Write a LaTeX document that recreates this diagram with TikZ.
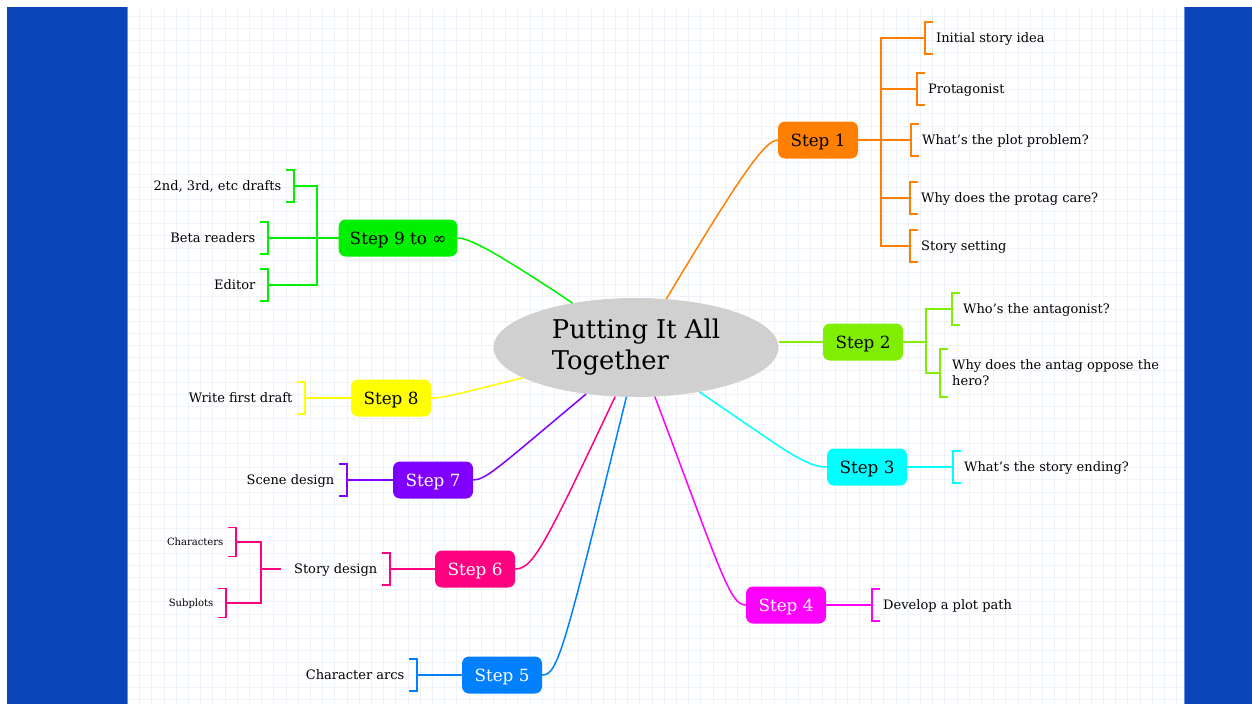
\documentclass[tikz,border=0pt]{standalone}
\usepackage{fontspec}
\setmainfont{DejaVu Serif}
\usetikzlibrary{shapes.geometric}

% palette
\definecolor{sideblue}{HTML}{0A46B9}
\definecolor{edgeblue}{HTML}{6E8FE0}
\definecolor{gridcol}{HTML}{EDF2FB}
\definecolor{hubgray}{HTML}{D0D0D0}
\definecolor{cOne}{HTML}{FF8000}
\definecolor{cTwo}{HTML}{80EE00}
\definecolor{cThree}{HTML}{00FFFF}
\definecolor{cFour}{HTML}{FF00FF}
\definecolor{cFive}{HTML}{0080FF}
\definecolor{cSix}{HTML}{FF0080}
\definecolor{cSeven}{HTML}{8000FF}
\definecolor{cEight}{HTML}{FFFF00}
\definecolor{cNine}{HTML}{00F000}

\newcommand\titlefont{\fontsize{25.8}{31}\selectfont}
\newcommand\stepfont{\fontsize{16.8}{19}\selectfont}
\newcommand\leaffont{\fontsize{13}{16}\selectfont}
\newcommand\tinyleaffont{\fontsize{10}{12}\selectfont}

% bracket on the west side of a leaf (opening to the right)
\newcommand\brackW[2]{\draw[conn,#2] ([xshift=8pt]#1.north west) -- (#1.north west) -- (#1.south west) -- ([xshift=8pt]#1.south west);}
% bracket on the east side of a leaf (opening to the left)
\newcommand\brackE[2]{\draw[conn,#2] ([xshift=-8pt]#1.north east) -- (#1.north east) -- (#1.south east) -- ([xshift=-8pt]#1.south east);}

\begin{document}
\begin{tikzpicture}[x=1pt,y=-1pt,
  gridline/.style={draw=gridcol,line width=1.1pt},
  conn/.style={line width=1.5pt},
  hub/.style={ellipse,fill=hubgray,minimum width=285pt,minimum height=99pt,inner sep=0pt,
    align=left,font=\titlefont},
  stepbox/.style={rounded corners=7pt,minimum width=80pt,minimum height=37pt,inner xsep=11pt,
    inner ysep=0pt,font=\stepfont,text height=12pt,text depth=0pt},
  leafR/.style={anchor=west,inner xsep=11pt,inner ysep=0pt,minimum height=32pt,font=\leaffont,
    text height=9.5pt,text depth=0pt},
  leafL/.style={anchor=east,inner xsep=12.5pt,inner ysep=0pt,minimum height=32pt,font=\leaffont,
    text height=9.5pt,text depth=0pt},
  tinyleaf/.style={leafL,minimum height=29pt,font=\tinyleaffont,text height=7.3pt}]

\useasboundingbox (0,0) rectangle (1252,704);
\fill[white] (0,0) rectangle (1252,704);

% squared paper
\foreach \i in {0,...,85} {\draw[gridline] ({139.7+12.2*\i},7) -- ({139.7+12.2*\i},704);}
\foreach \j in {0,...,56} {\draw[gridline] (127,{16.3+12.2*\j}) -- (1184,{16.3+12.2*\j});}

% side bands
\fill[sideblue] (7,7) rectangle (127,704);
\fill[sideblue] (1184,7) rectangle (1252,704);
\draw[edgeblue,line width=1pt] (127.5,7) -- (127.5,704);
\draw[edgeblue,line width=1pt] (1184,7) -- (1184,704);

% central topic
\node[hub] (c) at (636,347.5) {Putting It All\\Together};

% steps
\node[stepbox,fill=cOne]   (s1) at (818,140) {Step 1};
\node[stepbox,fill=cTwo]   (s2) at (863,342) {Step 2};
\node[stepbox,fill=cThree] (s3) at (867,467) {Step 3};
\node[stepbox,fill=cFour,text=white]  (s4) at (786,605) {Step 4};
\node[stepbox,fill=cFive,text=white]  (s5) at (502,675) {Step 5};
\node[stepbox,fill=cSix,text=white]   (s6) at (475,569) {Step 6};
\node[stepbox,fill=cSeven,text=white] (s7) at (433,480) {Step 7};
\node[stepbox,fill=cEight] (s8) at (391,398) {Step 8};
\node[stepbox,fill=cNine]  (s9) at (398,238) {Step 9 to ∞};

% leaves, right side
\node[leafR] (l11) at (925,38)  {Initial story idea};
\node[leafR] (l12) at (917,89) {Protagonist};
\node[leafR] (l13) at (911,140) {What’s the plot problem?};
\node[leafR] (l14) at (910,198) {Why does the protag care?};
\node[leafR] (l15) at (910,246) {Story setting};
\node[leafR] (l21) at (952,309) {Who’s the antagonist?};
\node[anchor=west,inner xsep=12pt,inner ysep=0pt,minimum height=48pt,font=\leaffont,align=left]
  (l22) at (940,373) {Why does the antag oppose the\\hero?};
\node[leafR] (l31) at (953,467) {What’s the story ending?};
\node[leafR] (l41) at (872,605) {Develop a plot path};

% leaves, left side
\node[leafL] (l91) at (294,186) {2nd, 3rd, etc drafts};
\node[leafL] (l92) at (268,238) {Beta readers};
\node[leafL] (l93) at (268,285) {Editor};
\node[leafL] (l81) at (305,398) {Write first draft};
\node[leafL] (l71) at (347,480) {Scene design};
\node[leafL] (l61) at (390,569) {Story design};
\node[tinyleaf] (l62) at (236,542) {Characters};
\node[tinyleaf] (l63) at (226,603) {Subplots};
\node[leafL] (l51) at (417,675) {Character arcs};

% junction points of the trunks
\coordinate (t1) at (881,140);
\coordinate (t2) at (926,342);
\coordinate (t6) at (261,569);
\coordinate (t9) at (317,238);

% hub to steps
\draw[conn,cOne]   (c.58)  .. controls (740,176) and (765,140) .. (s1.west);
\draw[conn,cTwo]   (c.east |- s2.west) -- (s2.west);
\draw[conn,cThree] (c.-35) .. controls (785,450) and (805,467) .. (s3.west);
\draw[conn,cFour]  (c.-69) .. controls (722,575) and (730,605) .. (s4.west);
\draw[conn,cFive]  (c.259) .. controls (564,650) and (558,675) .. (s5.east);
\draw[conn,cSix]   (c.247) .. controls (545,545) and (533,569) .. (s6.east);
\draw[conn,cSeven] (c.223) .. controls (500,466) and (486,480) .. (s7.east);
\draw[conn,cEight] (c.195) .. controls (465,392) and (445,398) .. (s8.east);
\draw[conn,cNine]  (c.145) .. controls (490,248) and (468,238) .. (s9.east);

% step 1 branch
\draw[conn,cOne] (s1.east) -- (l13.west);
\foreach \n in {l11,l12,l14,l15} {\draw[conn,cOne] (\n.west) -| (t1);}
\foreach \n in {l11,l12,l13,l14,l15} {\brackW{\n}{cOne}}

% step 2 branch
\draw[conn,cTwo] (s2.east) -- (t2);
\draw[conn,cTwo] (l21.west) -| (t2);
\draw[conn,cTwo] (l22.west) -| (t2);
\brackW{l21}{cTwo}
\brackW{l22}{cTwo}

% steps 3 and 4
\draw[conn,cThree] (s3.east) -- (l31.west);
\brackW{l31}{cThree}
\draw[conn,cFour] (s4.east) -- (l41.west);
\brackW{l41}{cFour}

% step 5
\draw[conn,cFive] (s5.west) -- (l51.east);
\brackE{l51}{cFive}

% step 6 with its nested leaves
\draw[conn,cSix] (s6.west) -- (l61.east);
\brackE{l61}{cSix}
\draw[conn,cSix] (l61.west) -- (t6);
\draw[conn,cSix] (l62.east) -| (t6);
\draw[conn,cSix] (l63.east) -| (t6);
\brackE{l62}{cSix}
\brackE{l63}{cSix}

% steps 7 and 8
\draw[conn,cSeven] (s7.west) -- (l71.east);
\brackE{l71}{cSeven}
\draw[conn,cEight] (s8.west) -- (l81.east);
\brackE{l81}{cEight}

% step 9 branch
\draw[conn,cNine] (s9.west) -- (l92.east);
\draw[conn,cNine] (l91.east) -| (t9);
\draw[conn,cNine] (l93.east) -| (t9);
\foreach \n in {l91,l92,l93} {\brackE{\n}{cNine}}

\end{tikzpicture}
\end{document}
